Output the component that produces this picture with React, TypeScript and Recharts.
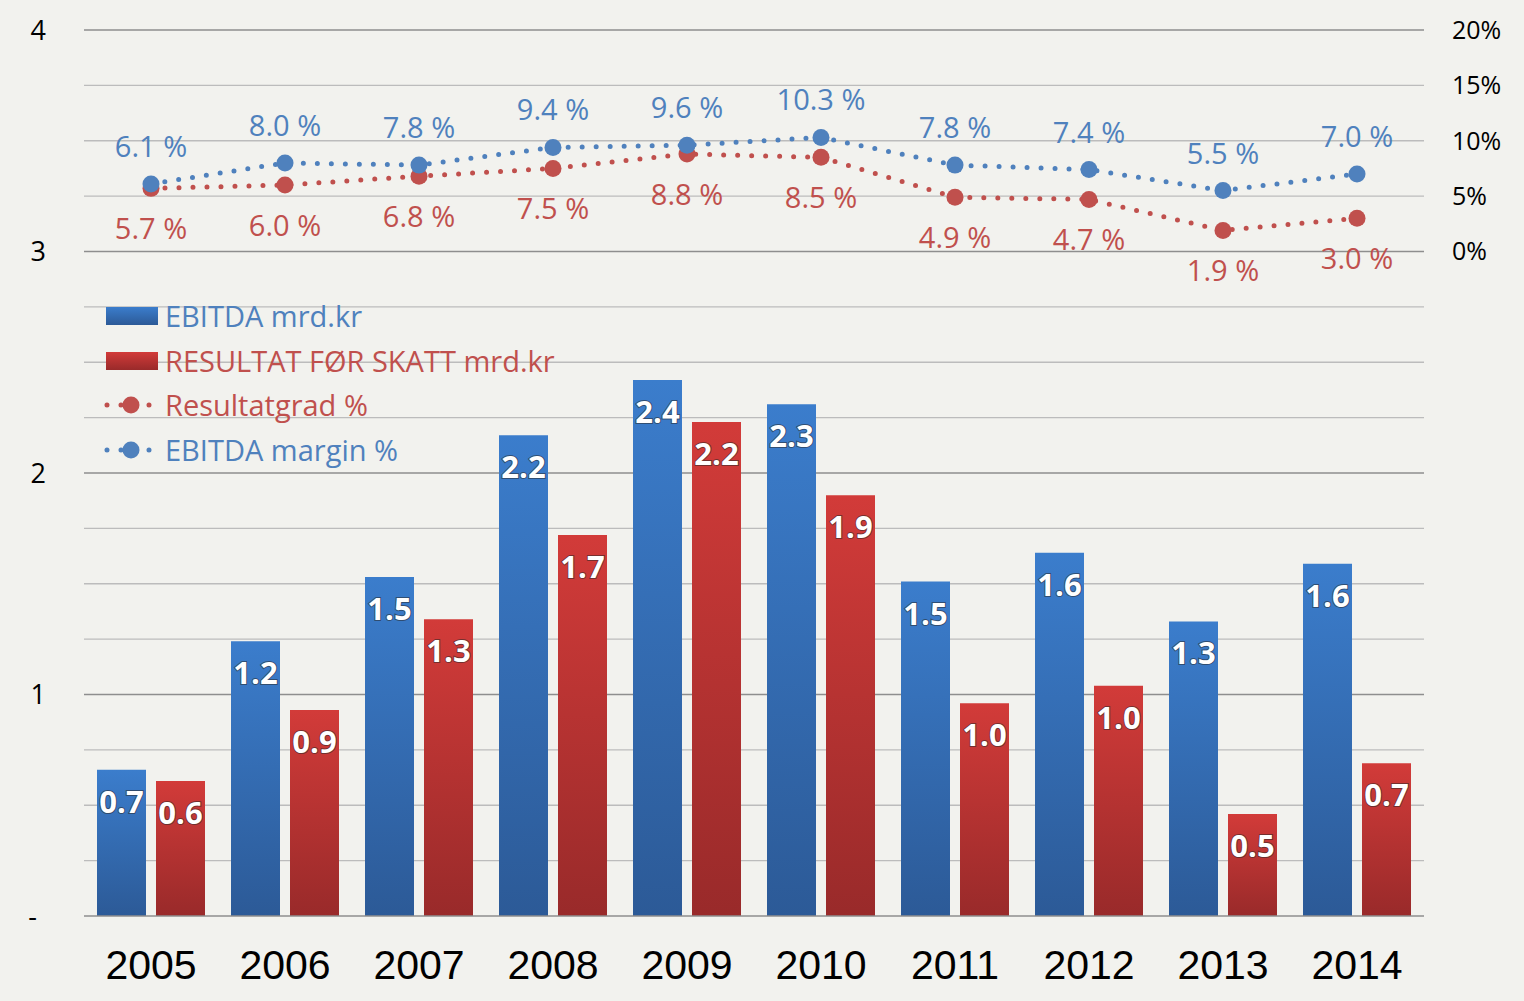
import { ComposedChart, Bar, Line, XAxis, YAxis, CartesianGrid, LabelList } from "recharts";

const years = ["2005", "2006", "2007", "2008", "2009", "2010", "2011", "2012", "2013", "2014"];
const ebitda = [0.66, 1.24, 1.53, 2.17, 2.42, 2.31, 1.51, 1.64, 1.33, 1.59];
const resultat = [0.61, 0.93, 1.34, 1.72, 2.23, 1.9, 0.96, 1.04, 0.46, 0.69];
const ebitdaMargin = [6.1, 8.0, 7.8, 9.4, 9.6, 10.3, 7.8, 7.4, 5.5, 7.0];
const resultatgrad = [5.7, 6.0, 6.8, 7.5, 8.8, 8.5, 4.9, 4.7, 1.9, 3.0];

const leftTicks = [0, 1, 2, 3, 4];
const pctTicks = [0, 5, 10, 15, 20];
const quarterLines = [0.25, 0.5, 0.75, 1.25, 1.5, 1.75, 2.25, 2.5, 2.75, 3.25, 3.5, 3.75];
const wholeLines = [1, 2, 3, 4];

const BLUE = "#4f81bd";
const RED = "#c0504d";
const FONT = "'Open Sans', sans-serif";

const data = years.map((y, i) => ({
    year: y,
    ebitda: ebitda[i],
    resultat: resultat[i],
    margin: ebitdaMargin[i],
    grad: resultatgrad[i],
}));

const barLabelStyle = {
    fill: "#fff",
    fontSize: 31,
    fontWeight: 700,
    fontFamily: FONT,
    stroke: "rgba(40,40,40,0.55)",
    strokeWidth: 2,
    paintOrder: "stroke",
} as any;

// left axis: "-" for zero sits a bit further left, like the original
function LeftTick(props: any) {
    const { x, y, payload } = props;
    const isZero = payload.value === 0;
    return (
        <text x={isZero ? x - 9 : x} y={y} dy="0.355em" textAnchor="end"
            fill="#000" fontSize={27} fontFamily={FONT}>
            {isZero ? "-" : payload.value}
        </text>
    );
}

function LegendLine({ color }: { color: string }) {
    return (
        <svg width={56} height={20} style={{ marginRight: 5 }}>
            <line x1={3} y1={10} x2={50} y2={10} stroke={color} strokeWidth={5}
                strokeDasharray="0 14" strokeLinecap="round" />
            <circle cx={27} cy={10} r={8.5} fill={color} />
        </svg>
    );
}

function LegendBox({ from, to }: { from: string; to: string }) {
    return (
        <div style={{
            width: 52, height: 18, marginRight: 7, marginLeft: 2,
            background: `linear-gradient(${from}, ${to})`,
        }} />
    );
}

const legendItems = [
    { label: "EBITDA mrd.kr", color: BLUE, icon: <LegendBox from="#3b7dcc" to="#2c5a97" /> },
    { label: "RESULTAT FØR SKATT mrd.kr", color: RED, icon: <LegendBox from="#d23b39" to="#992a2a" /> },
    { label: "Resultatgrad %", color: RED, icon: <LegendLine color={RED} /> },
    { label: "EBITDA margin %", color: BLUE, icon: <LegendLine color={BLUE} /> },
];

export default function App() {
    return (
        <div style={{ position: "absolute", left: 0, top: 0, width: 1524, height: 1001, background: "#f2f2ee" }}>
            <ComposedChart
                width={1524}
                height={1001}
                data={data}
                margin={{ top: 30, right: 0, bottom: 0, left: 0 }}
                barSize={49}
                barGap={10}
            >
                <defs>
                    <linearGradient id="gBlue" x1="0" y1="0" x2="0" y2="1">
                        <stop offset="0%" stopColor="#3b7dcc" />
                        <stop offset="100%" stopColor="#2c5a97" />
                    </linearGradient>
                    <linearGradient id="gRed" x1="0" y1="0" x2="0" y2="1">
                        <stop offset="0%" stopColor="#d23b39" />
                        <stop offset="100%" stopColor="#992a2a" />
                    </linearGradient>
                </defs>
                <CartesianGrid vertical={false} horizontalValues={quarterLines} stroke="#bcbcbc" strokeWidth={1.3} />
                <CartesianGrid vertical={false} horizontalValues={wholeLines} stroke="#8e8e8e" strokeWidth={1.3} />
                <XAxis
                    dataKey="year"
                    height={85}
                    tickLine={false}
                    axisLine={{ stroke: "#8e8e8e", strokeWidth: 1.5 }}
                    tickMargin={28}
                    tick={{ fill: "#000", fontSize: 41, fontFamily: "'Liberation Sans', Arial, sans-serif" }}
                />
                <YAxis
                    width={84}
                    domain={[0, 4]}
                    ticks={leftTicks}
                    axisLine={false}
                    tickLine={false}
                    tickMargin={32}
                    tick={<LeftTick />}
                />
                <YAxis
                    yAxisId="pct"
                    orientation="right"
                    width={100}
                    domain={[-60, 20]}
                    ticks={pctTicks}
                    tickFormatter={(v: number) => `${v}%`}
                    axisLine={false}
                    tickLine={false}
                    tickMargin={22}
                    tick={{ fill: "#000", fontSize: 25, fontFamily: FONT, textAnchor: "start" }}
                />
                <Bar dataKey="ebitda" fill="url(#gBlue)" isAnimationActive={false}>
                    <LabelList dataKey="ebitda" position="insideTop" offset={21}
                        formatter={(v: any) => Number(v).toFixed(1)} style={barLabelStyle} />
                </Bar>
                <Bar dataKey="resultat" fill="url(#gRed)" isAnimationActive={false}>
                    <LabelList dataKey="resultat" position="insideTop" offset={21}
                        formatter={(v: any) => Number(v).toFixed(1)} style={barLabelStyle} />
                </Bar>
                <Line
                    yAxisId="pct"
                    dataKey="grad"
                    type="linear"
                    stroke={RED}
                    strokeWidth={5}
                    strokeDasharray="0 14"
                    strokeLinecap="round"
                    dot={{ r: 8.5, fill: RED, stroke: "none", strokeDasharray: "none" }}
                    isAnimationActive={false}
                >
                    <LabelList dataKey="grad" position="bottom" offset={30}
                        formatter={(v: any) => `${Number(v).toFixed(1)} %`}
                        style={{ fill: RED, fontSize: 29, fontFamily: FONT, stroke: "none" }} />
                </Line>
                <Line
                    yAxisId="pct"
                    dataKey="margin"
                    type="linear"
                    stroke={BLUE}
                    strokeWidth={5}
                    strokeDasharray="0 14"
                    strokeLinecap="round"
                    dot={{ r: 8.5, fill: BLUE, stroke: "none", strokeDasharray: "none" }}
                    isAnimationActive={false}
                >
                    <LabelList dataKey="margin" position="top" offset={27}
                        formatter={(v: any) => `${Number(v).toFixed(1)} %`}
                        style={{ fill: BLUE, fontSize: 29, fontFamily: FONT, stroke: "none" }} />
                </Line>
            </ComposedChart>
            <div style={{ position: "absolute", left: 104, top: 294, fontFamily: FONT }}>
                {legendItems.map((it) => (
                    <div key={it.label} style={{ display: "flex", alignItems: "center", height: 44.5 }}>
                        {it.icon}
                        <span style={{ color: it.color, fontSize: 29, lineHeight: "44px" }}>{it.label}</span>
                    </div>
                ))}
            </div>
        </div>
    );
}
